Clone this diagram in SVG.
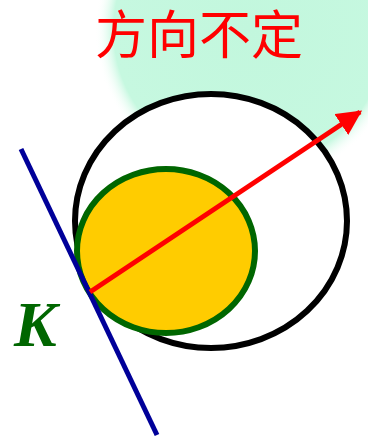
<svg xmlns="http://www.w3.org/2000/svg" width="368" height="439" viewBox="0 0 368 439">
<defs>
<radialGradient id="glow" cx="0.5" cy="0.5" r="0.5">
<stop offset="0" stop-color="#c2f7dd"/>
<stop offset="0.88" stop-color="#c6f8e0"/>
<stop offset="1" stop-color="#ffffff" stop-opacity="0"/>
</radialGradient>
<marker id="arr" viewBox="0 0 10 10" refX="9" refY="5" markerWidth="5" markerHeight="5" orient="auto" markerUnits="strokeWidth">
<path d="M0,0 L10,5 L0,10 Z" fill="#ff0000"/>
</marker>
<style>
.title{font-family:"Noto Sans CJK SC",sans-serif;font-size:52px;fill:#ff0000}
.k{font-family:"Liberation Serif",serif;font-size:64px;font-weight:bold;font-style:italic;fill:#006600}
</style>
</defs>
<rect width="368" height="439" fill="#ffffff"/>
<circle cx="250" cy="30" r="155" fill="url(#glow)"/>
<g id="title"><text class="title" x="95" y="54">方向不定</text></g>
<g id="outer"><ellipse cx="211" cy="221" rx="136" ry="127" fill="#ffffff" stroke="#000000" stroke-width="6"/></g>
<g id="inner"><ellipse cx="166" cy="251" rx="89" ry="82" fill="#ffcc00" stroke="#006600" stroke-width="6"/></g>
<g id="connectors">
<line x1="21" y1="149" x2="157" y2="435" stroke="#000099" stroke-width="5"/>
<line x1="90" y1="292" x2="360" y2="112" stroke="#ff0000" stroke-width="5" marker-end="url(#arr)"/>
</g>
<g id="label"><text class="k" x="14" y="346">K</text></g>
</svg>
